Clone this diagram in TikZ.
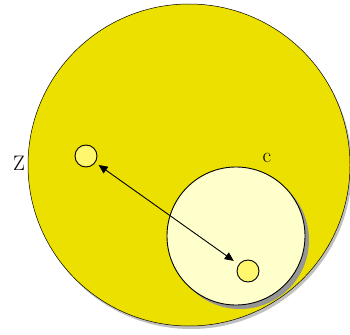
\documentclass[tikz,border=0pt]{standalone}
\usepackage{tikz}
\usetikzlibrary{arrows.meta, positioning, calc}
\definecolor{bigyellow}{RGB}{236,224,0}
\definecolor{paleyellow}{RGB}{255,255,204}
\definecolor{dotyellow}{RGB}{255,248,110}
\definecolor{shadowgray}{RGB}{150,150,150}

\begin{document}
\begin{tikzpicture}[x=1pt, y=-1pt,
  dot/.style={circle, draw, line width=0.9pt, fill=dotyellow, minimum size=22pt, inner sep=0pt},
  setlabel/.style={font=\fontsize{21}{24}\selectfont, inner sep=0pt}]
\useasboundingbox (0,0) rectangle (350,334);

% outer set
\fill[shadowgray!60] (191,168) circle (161);
\draw[fill=bigyellow, line width=0.5pt] (189,165) circle (161);

% inner set c
\fill[shadowgray] (240,240) circle (69);
\draw[fill=paleyellow, line width=0.9pt] (236,236) circle (69);

% points
\node[dot] (z) at (86,156) {};
\node[dot] (w) at (248,271) {};

% labels
\node[setlabel] (zlab) at (19,163) {Z};
\node[setlabel] (clab) at (267,158) {c};

% distance
\draw[{Triangle[length=9pt, width=8pt]}-{Triangle[length=9pt, width=8pt]}, line width=0.9pt,
  shorten <=4pt, shorten >=6pt] (z) -- (w);
\end{tikzpicture}
\end{document}
